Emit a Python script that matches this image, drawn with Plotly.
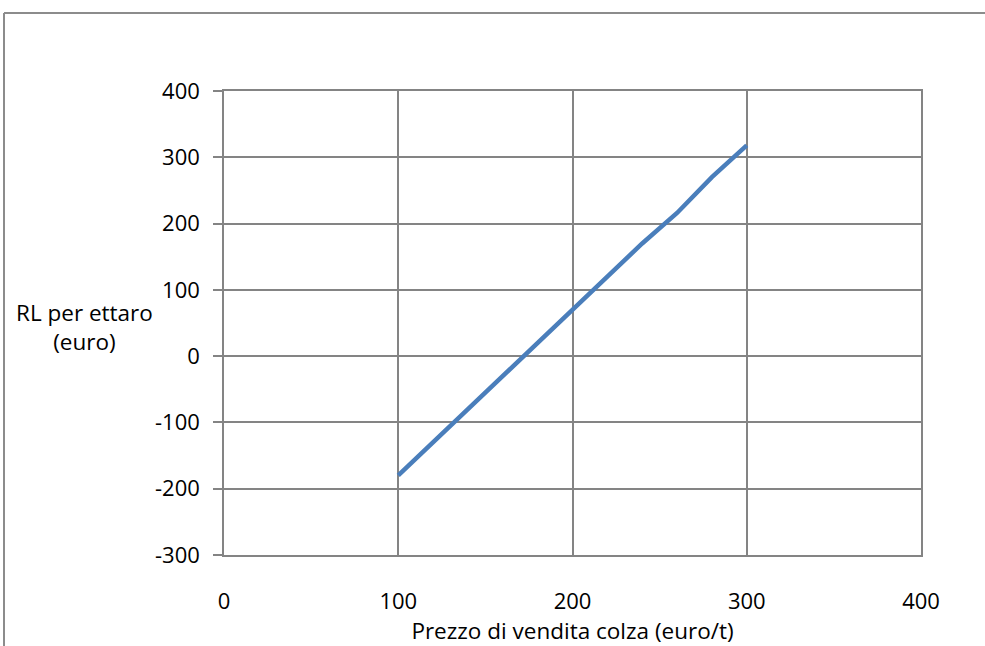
import plotly.graph_objects as go

# Selling price of rapeseed (euro/t) and net income per hectare (euro)
prezzo = [100, 120, 140, 160, 180, 200, 220, 240, 260, 280, 300]
rl_ettaro = [-180, -130, -80, -30, 20, 70, 120, 170, 216, 270, 318]

x_ticks = [0, 100, 200, 300, 400]
y_ticks = [-300, -200, -100, 0, 100, 200, 300, 400]

W, H = 985, 646
L, R, T, B = 224, 64, 91, 91
FONT = "Open Sans"
GRID = "#848484"

fig = go.Figure()
fig.add_trace(go.Scatter(
    x=prezzo, y=rl_ettaro, mode="lines",
    line=dict(color="#4A7EBB", width=4.5),
    showlegend=False, hoverinfo="skip",
))

axis_common = dict(
    showgrid=True, gridcolor=GRID, gridwidth=1.5,
    showline=True, linecolor=GRID, linewidth=1.5, mirror=True,
    zeroline=False, automargin=False,
    tickfont=dict(family=FONT, size=22, color="#000000"),
)

fig.update_xaxes(
    range=[0, 400], tickvals=x_ticks, ticktext=[str(v) for v in x_ticks],
    ticks="", ticklabelstandoff=26,
    title=dict(text="Prezzo di vendita colza (euro/t)",
               font=dict(family=FONT, size=22.5, color="#000000"), standoff=5),
    **axis_common,
)
fig.update_yaxes(
    range=[-300, 400], tickvals=y_ticks, ticktext=[str(v) for v in y_ticks],
    ticks="outside", ticklen=9, tickcolor=GRID, tickwidth=1.5,
    ticklabelstandoff=9,
    **axis_common,
)

pw = W - L - R
ph = H - T - B

# horizontal y-axis title
fig.add_annotation(
    text="RL per ettaro<br>(euro)", xref="paper", yref="paper",
    x=(84 - L) / pw, y=(H - 327 - B) / ph,
    xanchor="center", yanchor="middle", showarrow=False, align="center",
    font=dict(family=FONT, size=22.5, color="#000000"),
)

# outer chart frame (top and left edges)
fx = (4 - L) / pw
fy = (H - 13 - B) / ph
fig.add_shape(type="line", xref="paper", yref="paper",
              x0=fx, x1=(W + 5 - L) / pw, y0=fy, y1=fy,
              line=dict(color="#8C8C8C", width=2))
fig.add_shape(type="line", xref="paper", yref="paper",
              x0=fx, x1=fx, y0=fy, y1=(-5 - B) / ph,
              line=dict(color="#8C8C8C", width=2))

fig.update_layout(
    width=W, height=H,
    margin=dict(l=L, r=R, t=T, b=B),
    paper_bgcolor="#FFFFFF", plot_bgcolor="#FFFFFF",
    font=dict(family=FONT),
)

fig.write_html("out.html")
